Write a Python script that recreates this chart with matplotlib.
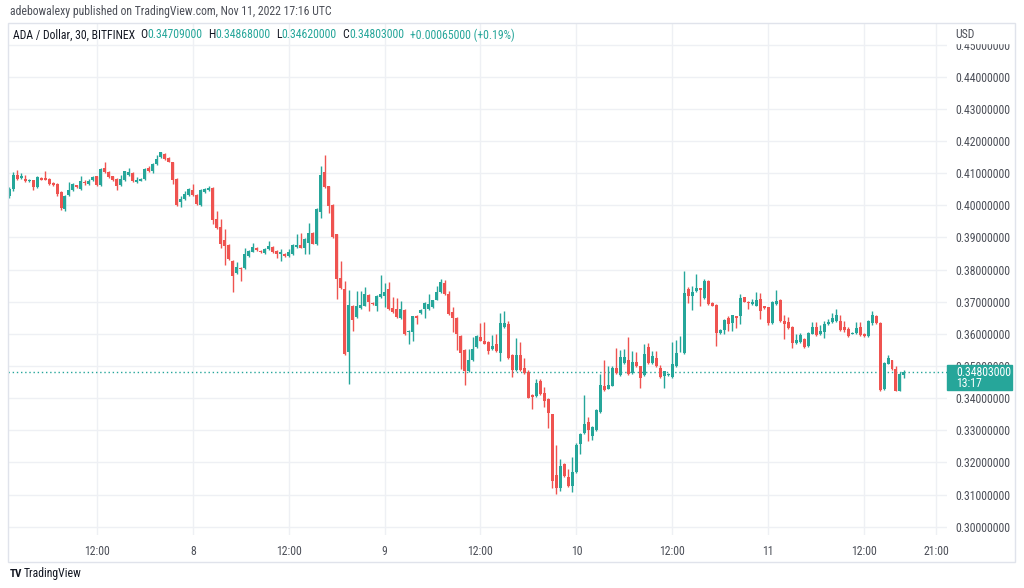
import numpy as np
import pandas as pd
import matplotlib
matplotlib.use("Agg")
import matplotlib.pyplot as plt
import matplotlib.dates as mdates
from matplotlib import font_manager
from matplotlib.patches import Rectangle

# ADA / Dollar, 30 min candles, BITFINEX
opens = [
    0.4030, 0.4051, 0.4093, 0.4085, 0.4082, 0.4074, 0.4077, 0.4056, 0.4085, 0.4085,
    0.4081, 0.4069, 0.4066, 0.4040, 0.3987, 0.4033, 0.4046, 0.4062, 0.4051, 0.4072,
    0.4067, 0.4077, 0.4090, 0.4062, 0.4115, 0.4103, 0.4090, 0.4082, 0.4062, 0.4077,
    0.4095, 0.4100, 0.4071, 0.4076, 0.4082, 0.4115, 0.4105, 0.4129, 0.4149, 0.4159,
    0.4146, 0.4133, 0.4082, 0.4010, 0.4018, 0.4033, 0.4048, 0.4033, 0.4002, 0.4041,
    0.4046, 0.4054, 0.3956, 0.3933, 0.3891, 0.3875, 0.3827, 0.3789, 0.3806, 0.3804,
    0.3842, 0.3855, 0.3866, 0.3857, 0.3850, 0.3863, 0.3870, 0.3857, 0.3847, 0.3849,
    0.3842, 0.3847, 0.3870, 0.3875, 0.3868, 0.3883, 0.3914, 0.3878, 0.3978, 0.4103,
    0.4059, 0.4002, 0.3909, 0.3775, 0.3739, 0.3543, 0.3688, 0.3651, 0.3680, 0.3688,
    0.3721, 0.3695, 0.3688, 0.3713, 0.3719, 0.3739, 0.3680, 0.3677, 0.3649, 0.3674,
    0.3605, 0.3605, 0.3654, 0.3665, 0.3677, 0.3677, 0.3682, 0.3706, 0.3729, 0.3757,
    0.3724, 0.3667, 0.3649, 0.3593, 0.3551, 0.3483, 0.3518, 0.3559, 0.3590, 0.3579,
    0.3574, 0.3552, 0.3567, 0.3540, 0.3621, 0.3631, 0.3533, 0.3487, 0.3533, 0.3494,
    0.3481, 0.3411, 0.3406, 0.3453, 0.3416, 0.3397, 0.3349, 0.3162, 0.3121, 0.3195,
    0.3154, 0.3126, 0.3169, 0.3258, 0.3291, 0.3327, 0.3282, 0.3301, 0.3358, 0.3437,
    0.3429, 0.3439, 0.3494, 0.3471, 0.3509, 0.3520, 0.3478, 0.3512, 0.3499, 0.3473,
    0.3558, 0.3509, 0.3525, 0.3494, 0.3470, 0.3472, 0.3466, 0.3499, 0.3545, 0.3540,
    0.3738, 0.3718, 0.3733, 0.3741, 0.3710, 0.3765, 0.3697, 0.3690, 0.3602, 0.3612,
    0.3648, 0.3633, 0.3654, 0.3656, 0.3713, 0.3700, 0.3692, 0.3688, 0.3708, 0.3686,
    0.3682, 0.3633, 0.3693, 0.3705, 0.3641, 0.3636, 0.3621, 0.3571, 0.3574, 0.3585,
    0.3562, 0.3600, 0.3621, 0.3598, 0.3605, 0.3629, 0.3636, 0.3639, 0.3641, 0.3621,
    0.3615, 0.3600, 0.3602, 0.3621, 0.3600, 0.3593, 0.3634, 0.3654, 0.3634, 0.3427,
    0.3507, 0.3518, 0.3492, 0.3423, 0.34709,
]
highs = [
    0.4057, 0.4103, 0.4110, 0.4100, 0.4095, 0.4082, 0.4080, 0.4090, 0.4087, 0.4107,
    0.4085, 0.4072, 0.4069, 0.4043, 0.4033, 0.4072, 0.4069, 0.4064, 0.4092, 0.4079,
    0.4081, 0.4090, 0.4092, 0.4115, 0.4136, 0.4105, 0.4092, 0.4085, 0.4095, 0.4107,
    0.4115, 0.4103, 0.4087, 0.4085, 0.4115, 0.4121, 0.4131, 0.4155, 0.4167, 0.4162,
    0.4149, 0.4136, 0.4085, 0.4028, 0.4043, 0.4054, 0.4066, 0.4035, 0.4051, 0.4054,
    0.4061, 0.4056, 0.3983, 0.3956, 0.3925, 0.3878, 0.3830, 0.3824, 0.3808, 0.3866,
    0.3861, 0.3883, 0.3869, 0.3860, 0.3866, 0.3889, 0.3873, 0.3860, 0.3863, 0.3851,
    0.3863, 0.3878, 0.3909, 0.3914, 0.3897, 0.3945, 0.3917, 0.3992, 0.4123, 0.4157,
    0.4061, 0.4004, 0.3912, 0.3825, 0.3763, 0.3736, 0.3690, 0.3733, 0.3733, 0.3746,
    0.3724, 0.3698, 0.3721, 0.3782, 0.3757, 0.3762, 0.3713, 0.3710, 0.3701, 0.3677,
    0.3613, 0.3656, 0.3657, 0.3677, 0.3698, 0.3724, 0.3706, 0.3749, 0.3770, 0.3767,
    0.3734, 0.3682, 0.3651, 0.3595, 0.3554, 0.3554, 0.3590, 0.3597, 0.3633, 0.3636,
    0.3577, 0.3597, 0.3600, 0.3664, 0.3670, 0.3641, 0.3536, 0.3587, 0.3574, 0.3525,
    0.3487, 0.3414, 0.3458, 0.3458, 0.3433, 0.3399, 0.3351, 0.3253, 0.3210, 0.3197,
    0.3179, 0.3216, 0.3260, 0.3291, 0.3409, 0.3340, 0.3314, 0.3366, 0.3476, 0.3520,
    0.3499, 0.3501, 0.3556, 0.3550, 0.3553, 0.3589, 0.3548, 0.3542, 0.3501, 0.3568,
    0.3571, 0.3545, 0.3545, 0.3504, 0.3485, 0.3478, 0.3576, 0.3581, 0.3592, 0.3795,
    0.3746, 0.3748, 0.3785, 0.3743, 0.3769, 0.3767, 0.3700, 0.3692, 0.3614, 0.3646,
    0.3654, 0.3659, 0.3656, 0.3724, 0.3715, 0.3702, 0.3708, 0.3731, 0.3727, 0.3688,
    0.3684, 0.3702, 0.3737, 0.3708, 0.3657, 0.3652, 0.3623, 0.3600, 0.3602, 0.3588,
    0.3605, 0.3638, 0.3636, 0.3626, 0.3641, 0.3646, 0.3665, 0.3677, 0.3657, 0.3641,
    0.3621, 0.3605, 0.3636, 0.3636, 0.3602, 0.3644, 0.3672, 0.3657, 0.3636, 0.3511,
    0.3533, 0.3520, 0.3499, 0.3481, 0.34868,
]
lows = [
    0.4023, 0.4043, 0.4080, 0.4082, 0.4072, 0.4072, 0.4048, 0.4054, 0.4077, 0.4077,
    0.4064, 0.4059, 0.4028, 0.3985, 0.3983, 0.4030, 0.4043, 0.4054, 0.4048, 0.4062,
    0.4064, 0.4075, 0.4059, 0.4059, 0.4100, 0.4085, 0.4074, 0.4048, 0.4059, 0.4074,
    0.4092, 0.4072, 0.4069, 0.4074, 0.4080, 0.4103, 0.4100, 0.4126, 0.4146, 0.4141,
    0.4134, 0.4066, 0.3997, 0.3995, 0.4015, 0.4030, 0.4030, 0.4000, 0.3999, 0.4038,
    0.4043, 0.3942, 0.3927, 0.3868, 0.3813, 0.3830, 0.3729, 0.3786, 0.3765, 0.3801,
    0.3840, 0.3853, 0.3858, 0.3851, 0.3847, 0.3860, 0.3850, 0.3837, 0.3825, 0.3840,
    0.3840, 0.3845, 0.3868, 0.3866, 0.3847, 0.3847, 0.3878, 0.3875, 0.3961, 0.4054,
    0.3976, 0.3899, 0.3708, 0.3738, 0.3535, 0.3445, 0.3610, 0.3648, 0.3677, 0.3685,
    0.3672, 0.3690, 0.3672, 0.3710, 0.3682, 0.3675, 0.3664, 0.3648, 0.3646, 0.3597,
    0.3569, 0.3579, 0.3629, 0.3662, 0.3648, 0.3675, 0.3680, 0.3704, 0.3727, 0.3721,
    0.3659, 0.3607, 0.3551, 0.3492, 0.3442, 0.3481, 0.3515, 0.3556, 0.3577, 0.3567,
    0.3538, 0.3549, 0.3543, 0.3515, 0.3618, 0.3523, 0.3466, 0.3484, 0.3484, 0.3476,
    0.3399, 0.3365, 0.3403, 0.3411, 0.3371, 0.3306, 0.3121, 0.3103, 0.3110, 0.3155,
    0.3124, 0.3107, 0.3166, 0.3226, 0.3288, 0.3265, 0.3270, 0.3298, 0.3355, 0.3422,
    0.3427, 0.3437, 0.3476, 0.3468, 0.3507, 0.3473, 0.3476, 0.3497, 0.3432, 0.3470,
    0.3507, 0.3507, 0.3497, 0.3463, 0.3432, 0.3470, 0.3463, 0.3497, 0.3543, 0.3537,
    0.3695, 0.3674, 0.3731, 0.3687, 0.3708, 0.3690, 0.3686, 0.3563, 0.3600, 0.3600,
    0.3609, 0.3610, 0.3618, 0.3631, 0.3698, 0.3676, 0.3690, 0.3686, 0.3646, 0.3677,
    0.3628, 0.3631, 0.3690, 0.3638, 0.3585, 0.3615, 0.3556, 0.3569, 0.3571, 0.3556,
    0.3559, 0.3598, 0.3593, 0.3595, 0.3588, 0.3626, 0.3633, 0.3636, 0.3610, 0.3605,
    0.3590, 0.3598, 0.3600, 0.3593, 0.3590, 0.3590, 0.3626, 0.3631, 0.3423, 0.3425,
    0.3505, 0.3487, 0.3421, 0.3421, 0.34620,
]
closes = [
    0.4051, 0.4095, 0.4082, 0.4092, 0.4075, 0.4079, 0.4056, 0.4087, 0.4079, 0.4079,
    0.4066, 0.4062, 0.4035, 0.3990, 0.4030, 0.4048, 0.4066, 0.4056, 0.4076, 0.4068,
    0.4074, 0.4088, 0.4062, 0.4112, 0.4103, 0.4087, 0.4077, 0.4059, 0.4082, 0.4105,
    0.4102, 0.4074, 0.4077, 0.4082, 0.4112, 0.4105, 0.4129, 0.4144, 0.4165, 0.4144,
    0.4136, 0.4079, 0.4002, 0.4020, 0.4035, 0.4051, 0.4033, 0.4004, 0.4048, 0.4051,
    0.4054, 0.3953, 0.3930, 0.3878, 0.3873, 0.3832, 0.3780, 0.3809, 0.3803, 0.3849,
    0.3858, 0.3871, 0.3861, 0.3853, 0.3863, 0.3873, 0.3853, 0.3847, 0.3853, 0.3842,
    0.3855, 0.3875, 0.3875, 0.3868, 0.3894, 0.3914, 0.3880, 0.3989, 0.4095, 0.4056,
    0.3997, 0.3901, 0.3770, 0.3741, 0.3538, 0.3690, 0.3643, 0.3688, 0.3691, 0.3724,
    0.3698, 0.3692, 0.3719, 0.3724, 0.3731, 0.3677, 0.3667, 0.3651, 0.3677, 0.3600,
    0.3610, 0.3654, 0.3649, 0.3675, 0.3695, 0.3693, 0.3704, 0.3731, 0.3760, 0.3724,
    0.3662, 0.3649, 0.3600, 0.3541, 0.3483, 0.3518, 0.3554, 0.3592, 0.3579, 0.3569,
    0.3548, 0.3561, 0.3545, 0.3633, 0.3633, 0.3526, 0.3487, 0.3533, 0.3487, 0.3478,
    0.3401, 0.3402, 0.3448, 0.3414, 0.3392, 0.3353, 0.3143, 0.3121, 0.3189, 0.3158,
    0.3126, 0.3170, 0.3253, 0.3288, 0.3319, 0.3301, 0.3311, 0.3363, 0.3442, 0.3425,
    0.3440, 0.3494, 0.3478, 0.3527, 0.3527, 0.3476, 0.3512, 0.3499, 0.3463, 0.3537,
    0.3509, 0.3532, 0.3499, 0.3465, 0.3483, 0.3474, 0.3506, 0.3540, 0.3548, 0.3728,
    0.3719, 0.3731, 0.3743, 0.3736, 0.3765, 0.3693, 0.3688, 0.3602, 0.3612, 0.3643,
    0.3631, 0.3657, 0.3648, 0.3712, 0.3700, 0.3695, 0.3698, 0.3705, 0.3672, 0.3679,
    0.3633, 0.3700, 0.3703, 0.3641, 0.3631, 0.3618, 0.3571, 0.3582, 0.3595, 0.3559,
    0.3602, 0.3621, 0.3595, 0.3610, 0.3629, 0.3636, 0.3649, 0.3659, 0.3613, 0.3613,
    0.3593, 0.3603, 0.3618, 0.3595, 0.3593, 0.3641, 0.3659, 0.3634, 0.3425, 0.3509,
    0.3526, 0.3489, 0.3423, 0.3474, 0.34803,
]
assert len(opens) == len(highs) == len(lows) == len(closes)

times = pd.date_range("2022-11-07 01:00", periods=len(closes), freq="30min")

tick_times = pd.to_datetime([
    "2022-11-07 12:00", "2022-11-08 00:00", "2022-11-08 12:00", "2022-11-09 00:00",
    "2022-11-09 12:00", "2022-11-10 00:00", "2022-11-10 12:00", "2022-11-11 00:00",
    "2022-11-11 12:00", "2022-11-11 21:00",
])
tick_labels = ["12:00", "8", "12:00", "9", "12:00", "10", "12:00", "11", "12:00", "21:00"]
price_ticks = np.round(np.arange(0.30, 0.4501, 0.01), 2)

GREEN = "#26a69a"
RED = "#ef5350"
TEXT = "#131722"
GREY = "#4c4f58"

# narrow font if there is one, otherwise plain sans a bit smaller
names = {f.name for f in font_manager.fontManager.ttflist}
FONT, FS = "Liberation Sans", 7
for cand in ["Liberation Sans Narrow", "Roboto Condensed", "Open Sans Condensed"]:
    if cand in names:
        FONT, FS = cand, 8.5
        break
plt.rcParams["font.family"] = [FONT, "DejaVu Sans"]

W, H = 1024, 588
fig = plt.figure(figsize=(W / 100, H / 100), dpi=100)
ax = fig.add_axes([8 / W, 1 - 535 / H, 939 / W, 512 / H])

o = np.array(opens)
h = np.array(highs)
l = np.array(lows)
c = np.array(closes)
x = mdates.date2num(times)
colors = np.where(c >= o, GREEN, RED)
width = 0.75 * (30 / 1440)

ax.vlines(x, l, h, colors=colors, linewidth=1, zorder=3)
ax.bar(x, np.maximum(np.abs(c - o), 0.00009), bottom=np.minimum(o, c),
       width=width, color=colors, linewidth=0, zorder=4)

ax.axhline(c[-1], color=GREEN, lw=1, ls=(0, (1, 2)), zorder=2)

ax.set_xlim(pd.Timestamp("2022-11-07 00:52"), pd.Timestamp("2022-11-11 22:23"))
ax.set_ylim(0.2974, 0.4567)
ax.set_xticks(mdates.date2num(tick_times))
ax.set_xticklabels(tick_labels)
ax.set_yticks(price_ticks)
ax.set_yticklabels([f"{p:.8f}" for p in price_ticks])
ax.yaxis.tick_right()
ax.tick_params(axis="y", length=0, pad=6, labelsize=FS, labelcolor=GREY)
ax.tick_params(axis="x", length=0, pad=7, labelsize=FS, labelcolor=GREY)
ax.grid(color="#eef0f4", lw=1, zorder=0)
ax.set_axisbelow(True)
for s in ax.spines.values():
    s.set_visible(False)

# last price tag on the price scale
yt = ax.get_yaxis_transform()
ax.add_patch(Rectangle((1.0, c[-1] - 0.0055), 0.0692, 0.0078, transform=yt,
                       color=GREEN, clip_on=False, zorder=10))
ax.text(1.0096, c[-1], f"{c[-1]:.8f}", transform=yt, color="white",
        fontsize=FS, va="center", ha="left", zorder=11, clip_on=False)
ax.text(1.0096, c[-1] - 0.0035, "13:17", transform=yt, color="white",
        fontsize=FS, va="center", ha="left", zorder=11, clip_on=False)

# currency label covering the top of the scale
ax.add_patch(Rectangle((1.0, 0.961), 0.072, 0.04, transform=ax.transAxes,
                       color="white", clip_on=False, zorder=10))
ax.text(1.0085, (535 - 34) / 512, "USD", transform=ax.transAxes, color=GREY,
        fontsize=FS, va="center", ha="left", zorder=11)

# outer frame
fig.add_artist(Rectangle((8 / W, 1 - 562 / H), 1007 / W, 539 / H,
                         transform=fig.transFigure, fill=False,
                         edgecolor="#e0e3eb", lw=1))

fig.text(10 / W, 1 - 12 / H, "adebowalexy published on TradingView.com, Nov 11, 2022 17:16 UTC",
         fontsize=FS, color=GREY, va="center")

prev = ax.text(13 / W, 1 - 35 / H, "ADA / Dollar, 30, BITFINEX", transform=fig.transFigure,
               fontsize=FS, color=TEXT, va="center", zorder=12)
parts = [("O", TEXT, 4), ("0.34709000", GREEN, 0), ("H", TEXT, 4), ("0.34868000", GREEN, 0),
         ("L", TEXT, 4), ("0.34620000", GREEN, 0), ("C", TEXT, 4), ("0.34803000", GREEN, 0),
         ("+0.00065000 (+0.19%)", GREEN, 4)]
for txt, col, gap in parts:
    prev = ax.annotate(txt, xy=(1, 0.5), xycoords=prev, xytext=(gap, 0),
                       textcoords="offset points", fontsize=FS, color=col,
                       va="center", ha="left", annotation_clip=False, zorder=12)

fig.text(10 / W, 1 - 574 / H, "TV", fontsize=8, weight="heavy", color=TEXT, va="center")
fig.text(24 / W, 1 - 574 / H, "TradingView", fontsize=FS, color=TEXT, va="center")

fig.savefig("out.png", dpi=100)
